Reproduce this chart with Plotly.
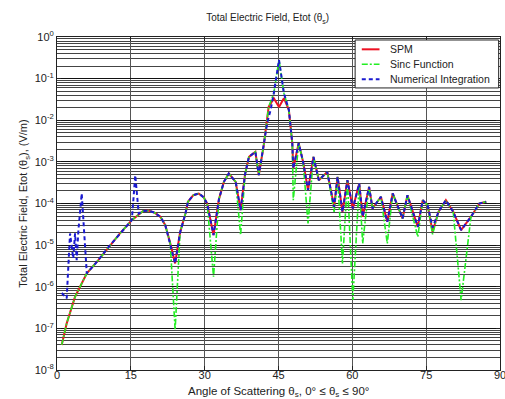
import plotly.graph_objects as go

# Angles (degrees) for the analytical models (SPM & Sinc)
theta_model = [0.96, 1.97, 3.67, 6.05, 8.4, 10.5, 12.8, 15.2, 17.5, 18.6, 19.8, 21.0,
               22.0, 23.0, 24.0, 25.0, 26.1, 26.6, 27.7, 28.8, 29.8, 30.5, 31.8, 32.9,
               33.9, 34.9, 36.3, 37.3, 38.2, 39.0, 40.3, 41.0, 42.0, 43.0, 44.05, 45.1,
               46.1, 47.1, 47.8, 48.0, 49.1, 50.0, 51.0, 52.1, 53.2, 54.9, 56.3, 57.0,
               58.0, 59.0, 60.1, 61.4, 62.1, 63.4, 64.1, 65.8, 67.1, 68.2, 70.2, 71.2,
               73.3, 74.3, 75.3, 76.3, 77.5, 79.0, 80.5, 82.1, 84.1, 85.8, 87.2]

spm = [4.0e-8, 1.32e-7, 5.75e-7, 2.09e-6, 4.37e-6, 9.12e-6, 1.91e-5, 3.98e-5, 6.61e-5,
       6.76e-5, 6.03e-5, 4.79e-5, 3.02e-5, 1.12e-5, 3.63e-6, 2.0e-5, 5.75e-5, 1.10e-4,
       1.58e-4, 1.74e-4, 1.41e-4, 1.0e-4, 1.74e-5, 1.26e-4, 3.31e-4, 5.25e-4, 3.31e-4,
       6.92e-5, 5.01e-4, 1.32e-3, 1.74e-3, 4.79e-4, 2.51e-3, 2.09e-2, 3.39e-2, 2.09e-2,
       3.39e-2, 1.78e-2, 2.82e-3, 6.92e-4, 2.82e-3, 1.0e-3, 2.09e-4, 1.32e-3, 3.63e-4,
       5.75e-4, 8.32e-5, 4.37e-4, 6.31e-5, 3.63e-4, 7.59e-5, 3.02e-4, 4.79e-5, 2.51e-4,
       7.59e-5, 1.45e-4, 3.63e-5, 1.74e-4, 4.37e-5, 1.58e-4, 2.75e-5, 1.20e-4, 9.12e-5,
       2.09e-5, 6.31e-5, 1.20e-4, 6.31e-5, 2.29e-5, 4.79e-5, 1.0e-4, 1.10e-4]

sinc = [4.0e-8, 1.32e-7, 5.75e-7, 2.09e-6, 4.37e-6, 9.12e-6, 1.91e-5, 3.98e-5, 6.61e-5,
        6.76e-5, 6.03e-5, 4.79e-5, 3.02e-5, 1.12e-5, 9.12e-8, 2.0e-5, 5.75e-5, 1.10e-4,
        1.58e-4, 1.74e-4, 1.41e-4, 1.0e-4, 1.74e-6, 1.26e-4, 3.31e-4, 5.25e-4, 3.31e-4,
        1.74e-5, 5.01e-4, 1.32e-3, 1.74e-3, 4.79e-4, 2.51e-3, 2.09e-2, 4.47e-2, 2.82e-1,
        4.47e-2, 1.78e-2, 2.82e-3, 1.20e-4, 2.82e-3, 1.0e-3, 3.31e-5, 1.32e-3, 3.63e-4,
        5.75e-4, 6.31e-5, 4.37e-4, 3.63e-6, 3.63e-4, 4.79e-7, 3.02e-4, 1.10e-5, 2.51e-4,
        7.59e-5, 1.45e-4, 1.10e-5, 1.74e-4, 4.37e-5, 1.58e-4, 1.58e-5, 1.20e-4, 9.12e-5,
        1.82e-5, 6.31e-5, 1.20e-4, 6.31e-5, 4.79e-7, 4.79e-5, 1.0e-4, 1.10e-4]

# Angles (degrees) for the numerical integration
theta_num = [0.96, 1.97, 2.65, 3.3, 3.67, 4.0, 4.35, 5.02, 6.05, 8.4, 10.5, 12.8, 15.2,
             15.9, 16.6, 17.5, 18.6, 19.8, 21.0, 22.0, 23.0, 24.0, 25.0, 26.1, 26.6,
             27.7, 28.8, 29.8, 30.5, 31.8, 32.9, 33.9, 34.9, 36.3, 37.3, 38.2, 39.0,
             40.3, 41.0, 42.0, 42.7, 43.4, 44.05, 45.1, 46.1, 47.1, 47.8, 48.0, 49.1,
             50.0, 51.0, 52.1, 53.2, 54.9, 56.3, 57.0, 58.0, 59.0, 60.1, 61.4, 62.1,
             63.4, 64.1, 65.8, 67.1, 68.2, 70.2, 71.2, 73.3, 74.3, 75.3, 76.3, 77.5,
             79.0, 80.5, 82.1, 84.1, 85.8, 87.2]

num_int = [7.08e-7, 5.25e-7, 1.91e-5, 4.79e-6, 1.91e-5, 4.37e-6, 2.29e-5, 1.74e-4,
           2.09e-6, 4.37e-6, 9.12e-6, 1.91e-5, 3.98e-5, 4.79e-4, 5.75e-5, 6.61e-5,
           6.76e-5, 6.03e-5, 4.79e-5, 3.02e-5, 1.12e-5, 3.63e-6, 2.0e-5, 5.75e-5,
           1.10e-4, 1.58e-4, 1.74e-4, 1.41e-4, 1.0e-4, 1.74e-5, 1.26e-4, 3.31e-4,
           5.25e-4, 3.31e-4, 6.92e-5, 5.01e-4, 1.32e-3, 1.74e-3, 4.79e-4, 2.51e-3,
           8.51e-3, 1.78e-2, 4.47e-2, 2.82e-1, 4.47e-2, 1.78e-2, 2.82e-3, 6.92e-4,
           2.82e-3, 1.0e-3, 2.09e-4, 1.32e-3, 3.63e-4, 5.75e-4, 8.32e-5, 4.37e-4,
           6.31e-5, 3.63e-4, 7.59e-5, 3.02e-4, 4.79e-5, 2.51e-4, 7.59e-5, 1.45e-4,
           3.63e-5, 1.74e-4, 4.37e-5, 1.58e-4, 2.75e-5, 1.20e-4, 9.12e-5, 2.63e-5,
           6.31e-5, 1.20e-4, 6.31e-5, 2.29e-5, 4.79e-5, 1.0e-4, 1.10e-4]

series_names = ["SPM", "Sinc Function", "Numerical Integration"]
x_ticks = [0, 15, 30, 45, 60, 75, 90]
y_tickvals = [1e0, 1e-1, 1e-2, 1e-3, 1e-4, 1e-5, 1e-6, 1e-7, 1e-8]
y_ticktext = ["10<sup>0</sup>", "10<sup>-1</sup>", "10<sup>-2</sup>", "10<sup>-3</sup>",
              "10<sup>-4</sup>", "10<sup>-5</sup>", "10<sup>-6</sup>", "10<sup>-7</sup>",
              "10<sup>-8</sup>"]

FONT = "Liberation Sans, Arial, sans-serif"
TXT = "#222"
styles = [dict(color="#ee1122", width=2),
          dict(color="#22ee22", width=1.6, dash="6px,2px,2px,2px"),
          dict(color="#1a1ad0", width=2, dash="4px,3px")]

fig = go.Figure()
fig.add_trace(go.Scatter(x=theta_model, y=spm, mode="lines", name=series_names[0],
                         line=styles[0], showlegend=False))
fig.add_trace(go.Scatter(x=theta_model, y=sinc, mode="lines", name=series_names[1],
                         line=styles[1], showlegend=False))
fig.add_trace(go.Scatter(x=theta_num, y=num_int, mode="lines", name=series_names[2],
                         line=styles[2], showlegend=False))

# Compact MATLAB-style legend box (paper coordinates)
fig.add_shape(type="rect", xref="paper", yref="paper", x0=0.673, x1=0.997, y0=0.847, y1=0.991,
              fillcolor="white", line=dict(color=TXT, width=1), layer="above")
rows_y = [0.963, 0.918, 0.873]
for name, st, yy in zip(series_names, styles, rows_y):
    fig.add_shape(type="line", xref="paper", yref="paper", x0=0.688, x1=0.728, y0=yy, y1=yy,
                  line=st, layer="above")
    fig.add_annotation(xref="paper", yref="paper", x=0.747, y=yy, text=name, showarrow=False,
                       xanchor="left", yanchor="middle",
                       font=dict(size=10.5, color=TXT, family=FONT))

# x-axis title
fig.add_annotation(xref="paper", yref="paper", x=0.5, y=-0.066,
                   text="Angle of Scattering θ<sub>s</sub>, 0° ≤ θ<sub>s</sub> ≤ 90°",
                   showarrow=False, xanchor="center", yanchor="middle",
                   font=dict(size=11.5, color=TXT, family=FONT))

fig.update_layout(
    width=505, height=399,
    margin=dict(l=57, r=5, t=37, b=29),
    paper_bgcolor="white", plot_bgcolor="white",
    font=dict(family=FONT, size=11, color=TXT),
    title=dict(text="Total Electric Field, Etot (θ<sub>s</sub>)", x=0.53, xanchor="center",
               y=0.955, yanchor="middle", font=dict(size=10, color=TXT)),
    showlegend=False,
)
fig.update_xaxes(
    range=[0, 90], tickvals=x_ticks, ticks="inside", ticklen=4, tickcolor=TXT,
    ticklabelstandoff=-5, ticklabeloverflow="allow", automargin=False,
    showline=True, linecolor=TXT, linewidth=1, mirror="ticks",
    showgrid=True, gridcolor="#555", gridwidth=1, zeroline=False,
)
fig.update_yaxes(
    type="log", range=[-8, 0], tickvals=y_tickvals, ticktext=y_ticktext,
    ticks="inside", ticklen=4, tickcolor=TXT,
    showline=True, linecolor=TXT, linewidth=1, mirror="ticks",
    showgrid=True, gridcolor="#111", gridwidth=1, zeroline=False,
    minor=dict(dtick="D1", showgrid=True, gridcolor="#444", gridwidth=1, ticks=""),
    title=dict(text="Total Electric Field, Etot (θ<sub>s</sub>), (V/m)",
               font=dict(size=11, color=TXT), standoff=4),
)

fig.write_html("out.html")
